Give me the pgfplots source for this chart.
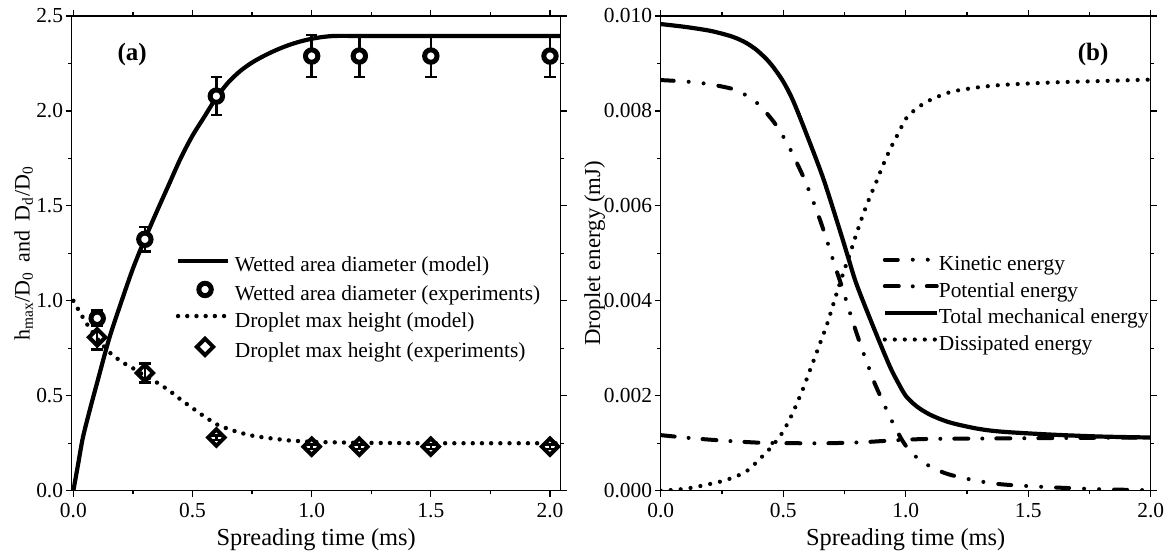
\documentclass[border=0pt]{standalone}
\usepackage{fontspec}
\setmainfont{Liberation Serif}
\usepackage{pgfplots}
\pgfplotsset{compat=1.18}

\pgfplotsset{
  mystyle/.style={
    scale only axis,
    tick align=outside,
    major tick length=3pt,
    minor tick length=1.8pt,
    axis line style={line width=0.6pt},
    every tick/.style={black, line width=0.6pt},
    /pgf/number format/assume math mode=true,
    tick label style={font=\fontsize{10.7}{12}\selectfont},
    every axis x label/.style={at={(axis description cs:0.5,-0.103)}, anchor=center, font=\fontsize{12.2}{14}\selectfont},
    legend cell align=left,
    legend style={draw=none, fill=none, inner sep=0pt, outer sep=0pt,
      font=\fontsize{10.7}{12}\selectfont, row sep=3.3pt, column sep=0pt,
      nodes={inner sep=0pt, text height=7.5pt, text depth=2.5pt}},
  },
  dotA/.style={black, line width=2.2pt, line cap=round, dash pattern=on 0pt off 4.6pt},
  dotB/.style={black, line width=2.1pt, line cap=round, dash pattern=on 0pt off 5pt},
}

\begin{document}
\begin{tikzpicture}
\useasboundingbox (0,0) rectangle (584pt,277.5pt);

% ---------------- panel (a) ----------------
\begin{axis}[mystyle,
  at={(35.85pt,32.15pt)}, anchor=south west,
  width=244.5pt, height=237.35pt,
  xmin=-0.007, xmax=2.045, ymin=0, ymax=2.5,
  xtick={0,0.5,1,1.5,2}, ytick={0,0.5,1,1.5,2,2.5},
  minor x tick num=1, minor y tick num=1,
  xticklabel style={/pgf/number format/.cd, fixed, fixed zerofill, precision=1},
  yticklabel style={xshift=2.2pt, /pgf/number format/.cd, fixed, fixed zerofill, precision=1},
  xlabel={Spreading time (ms)},
  ylabel={h\textsubscript{max}/D\textsubscript{0}\,\ and\ \,D\textsubscript{d}/D\textsubscript{0}},
  every axis y label/.style={at={(axis description cs:-0.098,0.5)}, rotate=90, anchor=center, font=\fontsize{11}{13}\selectfont},
  legend style={at={(axis description cs:0.213,0.493)}, anchor=north west},
  legend image code/.code={\draw[mark repeat=2,mark phase=2,#1] plot coordinates {(0pt,3pt) (13.5pt,3pt) (25pt,3pt)}; \path (27.3pt,3pt);},
]
\addplot[black, line width=2.1pt, smooth] coordinates {
(0,0) (0.02,0.14) (0.04,0.28) (0.07,0.43) (0.1,0.57) (0.15,0.80) (0.2,0.99)
(0.25,1.17) (0.3,1.325) (0.35,1.47) (0.4,1.61) (0.45,1.75) (0.5,1.87)
(0.55,1.97) (0.6,2.07) (0.65,2.15) (0.7,2.21) (0.75,2.255) (0.8,2.29)
(0.85,2.32) (0.9,2.345) (0.95,2.365) (1.0,2.38) (1.05,2.39) (1.1,2.395)
(1.2,2.395) (1.5,2.395) (2.045,2.395)};
\addlegendentry{Wetted area diameter (model)}

\addplot[only marks, mark=*, mark size=3.1pt,
  mark options={fill=white, draw=black, line width=2.5pt},
  error bars/.cd, y dir=both, y explicit,
  error bar style={line width=1.3pt, black},
  error mark options={rotate=90, mark size=2.9pt, line width=1.3pt, black}]
  table[x=x, y=y, y error=e] {
x y e
0.1 0.908 0.04
0.3 1.324 0.065
0.6 2.078 0.10
1.0 2.289 0.11
1.2 2.289 0.11
1.5 2.289 0.11
2.0 2.289 0.11
};
\addlegendentry{Wetted area diameter (experiments)}

\addplot[dotA] coordinates {
(0,1.0) (0.05,0.89) (0.1,0.80) (0.15,0.73) (0.2,0.68) (0.25,0.645) (0.3,0.605)
(0.35,0.57) (0.4,0.53) (0.45,0.48) (0.5,0.435) (0.55,0.39) (0.6,0.35)
(0.65,0.325) (0.7,0.305) (0.75,0.29) (0.8,0.28) (0.9,0.265) (1.0,0.257)
(1.2,0.252) (1.5,0.25) (2.045,0.25)};
\addlegendentry{Droplet max height (model)}

\addplot[only marks, mark=square, mark size=2.9pt,
  mark options={fill=white, draw=black, line width=2pt, rotate=45, solid},
  error bars/.cd, y dir=both, y explicit,
  error bar style={line width=1.3pt, black},
  error mark options={rotate=90, mark size=2.9pt, line width=1.3pt, black}]
  table[x=x, y=y, y error=e] {
x y e
0.1 0.808 0.065
0.3 0.62 0.05
0.6 0.28 0.012
1.0 0.232 0.012
1.2 0.232 0.012
1.5 0.232 0.012
2.0 0.232 0.012
};
\addlegendentry{Droplet max height (experiments)}

\node[font=\fontsize{12.5}{14}\selectfont\bfseries] at (axis cs:0.247,2.295) {(a)};
\end{axis}

% ---------------- panel (b) ----------------
\begin{axis}[mystyle,
  at={(330.35pt,32.15pt)}, anchor=south west,
  width=245pt, height=237.35pt,
  xmin=0, xmax=2, ymin=0, ymax=0.010,
  xtick={0,0.5,1,1.5,2}, ytick={0,0.002,0.004,0.006,0.008,0.010},
  minor x tick num=1, minor y tick num=1,
  scaled y ticks=false,
  xticklabel style={/pgf/number format/.cd, fixed, fixed zerofill, precision=1},
  yticklabel style={xshift=2.2pt, /pgf/number format/.cd, fixed, fixed zerofill, precision=3},
  xlabel={Spreading time (ms)},
  ylabel={Droplet energy (mJ)},
  every axis y label/.style={at={(axis description cs:-0.135,0.5)}, rotate=90, anchor=center, font=\fontsize{11.4}{14}\selectfont},
  legend style={at={(axis description cs:0.453,0.495)}, anchor=north west},
  legend image code/.code={\draw[#1] (0pt,3pt) -- (26pt,3pt); \path (26pt,3pt);},
]
\addplot[black, line width=2pt, line cap=round,
  dash pattern=on 6.5pt off 7.5pt on 0pt off 7.5pt on 0pt off 7.5pt, smooth] coordinates {
(0,0.00865) (0.1,0.00862) (0.19,0.00857) (0.295,0.00846) (0.358,0.00830)
(0.405,0.00811) (0.467,0.00773) (0.518,0.00730) (0.545,0.00702) (0.585,0.00658)
(0.619,0.00614) (0.641,0.00584) (0.671,0.00539) (0.698,0.00495) (0.718,0.00463)
(0.745,0.00421) (0.773,0.00374) (0.793,0.00342) (0.822,0.00298) (0.854,0.00253)
(0.875,0.00224) (0.936,0.00155) (0.977,0.00114) (1.0,0.00095) (1.03,0.00077)
(1.06,0.00064) (1.1,0.00051) (1.15,0.00039) (1.2,0.00031) (1.3,0.00020)
(1.4,0.00013) (1.6,0.00007) (1.8,0.00003) (2.0,0.00001)};
\addlegendentry{Kinetic energy}

\addplot[black, line width=2pt, line cap=round,
  dash pattern=on 7pt off 7pt on 0pt off 7pt, smooth] coordinates {
(0,0.00117) (0.14,0.00110) (0.27,0.00105) (0.41,0.00101) (0.55,0.00100)
(0.68,0.00100) (0.82,0.00102) (0.95,0.00106) (1.09,0.00109) (1.36,0.00110)
(1.63,0.00111) (2.0,0.00112)};
\addlegendentry{Potential energy}

\addplot[black, line width=2.1pt, smooth] coordinates {
(0,0.00983) (0.1,0.00977) (0.2,0.00969) (0.27,0.00960) (0.31,0.00953)
(0.35,0.00943) (0.39,0.00929) (0.43,0.00910) (0.46,0.00892) (0.5,0.00862)
(0.54,0.00822) (0.596,0.00750) (0.664,0.00657) (0.732,0.00547) (0.766,0.00490)
(0.80,0.00434) (0.868,0.00345) (0.936,0.00261) (0.977,0.00220) (1.0,0.00200)
(1.03,0.00184) (1.06,0.00172) (1.1,0.00160) (1.15,0.00149) (1.2,0.00141)
(1.3,0.00130) (1.4,0.00124) (1.6,0.00118) (1.8,0.00114) (2.0,0.00112)};
\addlegendentry{Total mechanical energy}

\addplot[dotB, smooth] coordinates {
(0,0.00000) (0.1,0.00004) (0.2,0.00014) (0.27,0.00023) (0.35,0.00041)
(0.42,0.00075) (0.46,0.00097) (0.5,0.00125) (0.54,0.00165) (0.582,0.00216)
(0.602,0.00244) (0.63,0.00282) (0.65,0.00310) (0.678,0.00349) (0.698,0.00382)
(0.722,0.00422) (0.745,0.00458) (0.78,0.00511) (0.80,0.00543) (0.827,0.00583)
(0.854,0.00619) (0.882,0.00653) (0.906,0.00684) (0.936,0.00719) (0.970,0.00753)
(1.0,0.00783) (1.03,0.00799) (1.06,0.00811) (1.1,0.00823) (1.15,0.00834)
(1.2,0.00842) (1.3,0.00850) (1.4,0.00855) (1.6,0.00860) (1.8,0.00863)
(2.0,0.00866)};
\addlegendentry{Dissipated energy}

\node[font=\fontsize{12.5}{14}\selectfont\bfseries] at (axis cs:1.765,0.00918) {(b)};
\end{axis}
\end{tikzpicture}
\end{document}
